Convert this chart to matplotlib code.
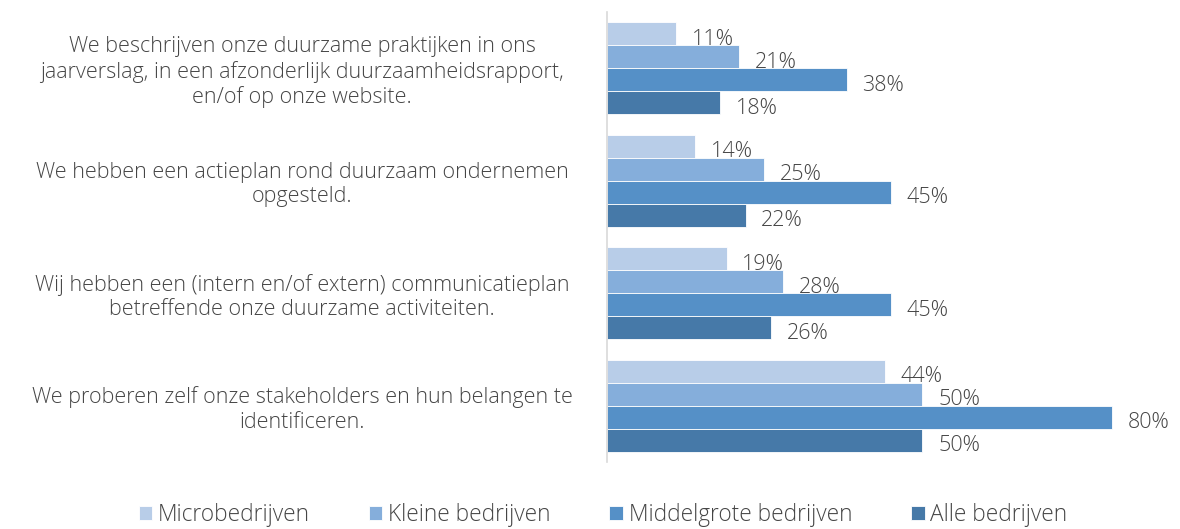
import matplotlib.pyplot as plt
import numpy as np

plt.rcParams['font.family'] = ['Open Sans', 'DejaVu Sans']

categories = [
    "We beschrijven onze duurzame praktijken in ons\njaarverslag, in een afzonderlijk duurzaamheidsrapport,\nen/of op onze website.",
    "We hebben een actieplan rond duurzaam ondernemen\nopgesteld.",
    "Wij hebben een (intern en/of extern) communicatieplan\nbetreffende onze duurzame activiteiten.",
    "We proberen zelf onze stakeholders en hun belangen te\nidentificeren.",
]
series = ["Microbedrijven", "Kleine bedrijven", "Middelgrote bedrijven", "Alle bedrijven"]
micro = [11, 14, 19, 44]
klein = [21, 25, 28, 50]
middel = [38, 45, 45, 80]
alle = [18, 22, 26, 50]
values = [micro, klein, middel, alle]
colors = ["#B8CDE8", "#85AEDB", "#5590C7", "#4679A8"]
text_col = "#454545"

fig = plt.figure(figsize=(11.8, 5.29), dpi=100)
ax = fig.add_axes([0.514, 0.127, 0.476, 0.85])

h = 0.205
y = np.arange(len(categories))
for i, (name, vals) in enumerate(zip(series, values)):
    pos = y + (i - 1.5) * h
    ax.barh(pos, vals, height=h, color=colors[i], edgecolor="white", linewidth=0.6, label=name)
    for p, v in zip(pos, vals):
        ax.text(v + 2.5, p + 0.05, f"{v}%", va="center", ha="left", fontsize=15.5,
                color=text_col, fontweight="light")

ax.set_ylim(len(categories) - 0.5, -0.5)
ax.set_xlim(0, 88.9)
ax.set_xticks([])
ax.set_yticks([])
for s in ["top", "right", "bottom"]:
    ax.spines[s].set_visible(False)
ax.spines["left"].set_color("#D9D9D9")
ax.spines["left"].set_linewidth(1.2)

for yi, cat in zip(y, categories):
    fig.text(0.256, ax.transData.transform((0, yi + 0.035))[1] / fig.bbox.height, cat,
             ha="center", va="center", fontsize=15.5, color=text_col, linespacing=1.2,
             fontweight="light")

leg = fig.legend(loc="lower center", bbox_to_anchor=(0.511, -0.035), ncol=4, frameon=False,
                 fontsize=16.3, handlelength=0.6, handleheight=0.6, handletextpad=0.25,
                 columnspacing=2.6)
for t in leg.get_texts():
    t.set_color(text_col)
    t.set_fontweight("light")

fig.savefig("out.png", dpi=100)
